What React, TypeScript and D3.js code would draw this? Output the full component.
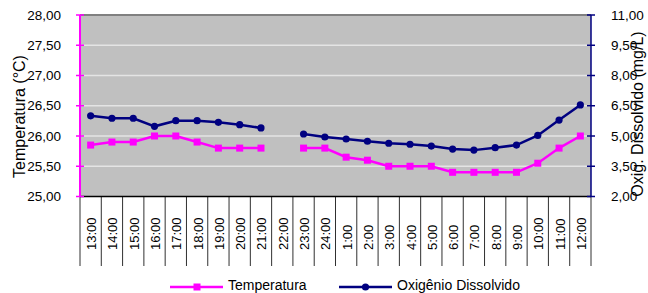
import React from "react";
import * as d3 from "d3";

const categories = ["13:00","14:00","15:00","16:00","17:00","18:00","19:00","20:00","21:00","22:00","23:00","24:00","1:00","2:00","3:00","4:00","5:00","6:00","7:00","8:00","9:00","10:00","11:00","12:00"];
const temperatura: (number | null)[] = [25.85,25.9,25.9,26.0,26.0,25.9,25.8,25.8,25.8,null,25.8,25.8,25.65,25.6,25.5,25.5,25.5,25.4,25.4,25.4,25.4,25.55,25.8,26.0];
const oxigenio: (number | null)[] = [6.0,5.88,5.88,5.48,5.76,5.76,5.68,5.56,5.4,null,5.1,4.95,4.85,4.74,4.64,4.59,4.5,4.35,4.3,4.42,4.55,5.03,5.79,6.54];
const leftTicks = [25,25.5,26,26.5,27,27.5,28];
const rightTicks = [2,3.5,5,6.5,8,9.5,11];

const W = 648, H = 293;
const L = 80, R = 591, T = 15, B = 196.5;
const MAG = "#ff00ff", NAVY = "#000080";
const FONT = "'Liberation Sans', Arial, sans-serif";
const fmt = (v: number) => v.toFixed(2).replace(".", ",");

export default function App() {
  const x = d3.scaleBand<string>().domain(categories).range([L, R]);
  const yL = d3.scaleLinear().domain([25, 28]).range([B, T]);
  const yR = d3.scaleLinear().domain([2, 11]).range([B, T]);
  const cx = (c: string) => (x(c) as number) + x.bandwidth() / 2;

  const lineT = d3.line<number | null>()
    .defined((d) => d !== null)
    .x((_, i) => cx(categories[i]))
    .y((d) => yL(d as number));
  const lineO = d3.line<number | null>()
    .defined((d) => d !== null)
    .x((_, i) => cx(categories[i]))
    .y((d) => yR(d as number));

  const boundaries = categories.map((c) => x(c) as number).concat([R]);
  const LY = 285;

  return (
    <svg width={W} height={H} style={{ position: "absolute", left: 0, top: 0 }} fontFamily={FONT}>
      <rect x={0} y={0} width={W} height={H} fill="#ffffff" />
      <rect x={L} y={T} width={R - L} height={B - T} fill="#c0c0c0" />
      {leftTicks.slice(1, -1).map((t) => (
        <line key={t} x1={L} x2={R} y1={yL(t)} y2={yL(t)} stroke="#e4e4e4" strokeWidth={1.5} />
      ))}
      <line x1={L} x2={R} y1={T} y2={T} stroke="#808080" strokeWidth={2} />
      {boundaries.map((bx, i) => (
        <line key={i} x1={bx} x2={bx} y1={B} y2={266} stroke="#303030" strokeWidth={1} />
      ))}
      <line x1={L} x2={R} y1={B} y2={B} stroke="#000" strokeWidth={1.5} />
      {categories.map((c) => (
        <text key={c} transform={`translate(${cx(c) + 1},250) rotate(-90)`} fontSize={13} dominantBaseline="central" textAnchor="start" fill="#000">{c}</text>
      ))}
      <line x1={L} x2={L} y1={T} y2={B} stroke={MAG} strokeWidth={2} />
      {leftTicks.map((t) => (
        <g key={t}>
          <line x1={L - 4} x2={L + 4} y1={yL(t)} y2={yL(t)} stroke={MAG} strokeWidth={1.5} />
          <text x={61} y={yL(t)} fontSize={13.5} textAnchor="end" dominantBaseline="central" fill="#000">{fmt(t)}</text>
        </g>
      ))}
      <line x1={R} x2={R} y1={T} y2={B} stroke={NAVY} strokeWidth={1.5} />
      {rightTicks.map((t) => (
        <g key={t}>
          <line x1={R - 4} x2={R + 4} y1={yR(t)} y2={yR(t)} stroke={NAVY} strokeWidth={1.5} />
          <text x={611} y={yR(t)} fontSize={13.5} textAnchor="start" dominantBaseline="central" fill="#000">{fmt(t)}</text>
        </g>
      ))}
      <text transform="translate(19.5,116.5) rotate(-90)" fontSize={16} textAnchor="middle" dominantBaseline="central" fill="#000">Temperatura (°C)</text>
      <text transform="translate(637,114) rotate(-90)" fontSize={16} textAnchor="middle" dominantBaseline="central" fill="#000">Oxig. Dissolvido (mg/L)</text>
      <path d={lineO(oxigenio) || ""} fill="none" stroke={NAVY} strokeWidth={2.5} />
      {oxigenio.map((v, i) => v === null ? null : (
        <circle key={i} cx={cx(categories[i])} cy={yR(v)} r={3.6} fill={NAVY} />
      ))}
      <path d={lineT(temperatura) || ""} fill="none" stroke={MAG} strokeWidth={2.5} />
      {temperatura.map((v, i) => v === null ? null : (
        <rect key={i} x={cx(categories[i]) - 3.5} y={yL(v) - 3.5} width={7} height={7} fill={MAG} />
      ))}
      <line x1={170} x2={223} y1={287} y2={287} stroke={MAG} strokeWidth={2.5} />
      <rect x={193.5} y={283.5} width={7} height={7} fill={MAG} />
      <text x={228} y={LY} fontSize={14} dominantBaseline="central" fill="#000">Temperatura</text>
      <line x1={339} x2={392} y1={287} y2={287} stroke={NAVY} strokeWidth={2.5} />
      <circle cx={365.5} cy={287} r={3.6} fill={NAVY} />
      <text x={397} y={LY} fontSize={14} dominantBaseline="central" fill="#000">Oxigênio Dissolvido</text>
    </svg>
  );
}
